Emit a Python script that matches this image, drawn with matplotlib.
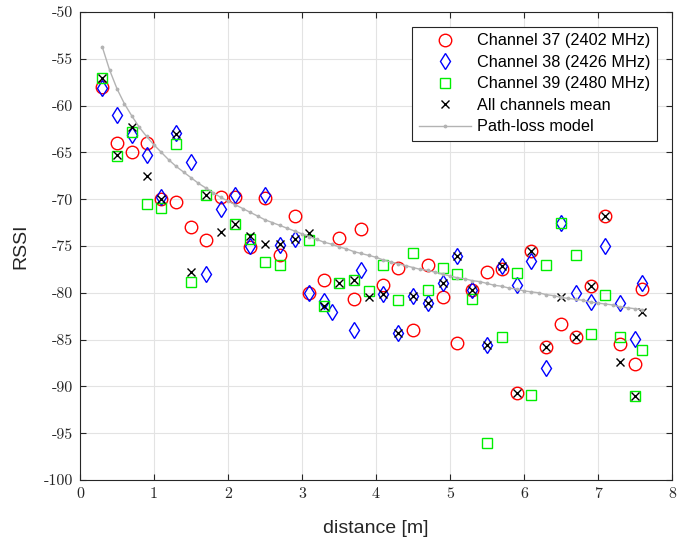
import numpy as np
import matplotlib
matplotlib.use("Agg")
import matplotlib.pyplot as plt

plt.rcParams["axes.unicode_minus"] = False

# measurement positions (m)
dist = [0.3, 0.5, 0.7, 0.9, 1.1, 1.3, 1.5, 1.7, 1.9, 2.1, 2.3, 2.5, 2.7, 2.9,
        3.1, 3.3, 3.4, 3.5, 3.7, 3.8, 3.9, 4.1, 4.3, 4.5, 4.7, 4.9, 5.1, 5.3,
        5.5, 5.7, 5.9, 6.1, 6.3, 6.5, 6.7, 6.9, 7.1, 7.3, 7.5, 7.6]
nan = np.nan
ch37 = [-58.0, -64.0, -65.0, -64.0, -70.0, -70.3, -73.0, -74.4, -69.8, -69.8,
        -75.1, -69.9, -76.0, -71.8, -80.0, -78.6, nan, -74.1, -80.7, -73.2,
        nan, -79.2, -77.4, -84.0, -77.0, -80.4, -85.4, -79.7, -77.8, -77.5,
        -90.7, -75.5, -85.8, -83.3, -84.7, -79.3, -71.8, -85.5, -87.6, -79.6]
ch38 = [-58.1, -61.0, -63.1, -65.3, -69.8, -62.9, -66.0, -78.0, -71.0, -69.6,
        -75.0, -69.6, -74.9, -74.2, -80.0, -80.9, -82.0, nan, -84.0, -77.6,
        nan, -80.1, -84.3, -80.3, -81.1, -79.0, -76.1, -79.7, -85.6, -77.1,
        -79.2, -76.6, -88.0, -72.5, -80.0, -81.0, -75.0, -81.1, -84.9, -78.9]
ch39 = [-57.0, -65.4, -62.8, -70.5, -70.9, -64.1, -78.8, -69.5, nan, -72.6,
        -74.2, -76.7, -77.0, nan, -74.4, -81.4, nan, -79.0, -78.6, nan,
        -79.8, -77.0, -80.8, -75.8, -79.7, -77.4, -78.0, -80.7, -96.1, -84.7,
        -77.9, -90.9, -77.0, -72.5, -76.0, -84.4, -80.2, -84.7, -91.0, -86.1]
ch_mean = [-57.0, -65.3, -62.3, -67.5, -70.0, -63.0, -77.8, -69.5, -73.5, -72.6,
           -73.9, -74.8, -74.8, -74.2, -73.6, -81.4, nan, -79.0, -78.6, nan,
           -80.5, -80.1, -84.3, -80.3, -81.1, -79.0, -76.1, -79.7, -85.6, -77.1,
           -90.7, -75.5, -85.8, -80.4, -84.7, -79.3, -71.8, -87.4, -91.0, -82.0]

# path-loss model, sampled every 0.1 m
model_d = np.round(np.arange(0.3, 7.65, 0.1), 1)
model_rssi = [-53.7, -56.2, -58.2, -59.8, -61.1, -62.3, -63.3, -64.2, -65.0,
              -65.8, -66.5, -67.1, -67.7, -68.3, -68.8, -69.3, -69.8, -70.2,
              -70.6, -71.0, -71.4, -71.8, -72.2, -72.5, -72.8, -73.1, -73.4,
              -73.7, -74.0, -74.3, -74.6, -74.8, -75.1, -75.3, -75.6, -75.8,
              -76.0, -76.2, -76.5, -76.7, -76.9, -77.1, -77.3, -77.5, -77.6,
              -77.8, -78.0, -78.2, -78.4, -78.5, -78.7, -78.8, -79.0, -79.2,
              -79.3, -79.5, -79.6, -79.8, -79.9, -80.0, -80.2, -80.3, -80.5,
              -80.6, -80.7, -80.8, -81.0, -81.1, -81.2, -81.3, -81.5, -81.6,
              -81.7, -81.8]

fig = plt.figure(figsize=(6.94, 5.37), dpi=100)
ax = fig.add_axes([80 / 694, 1 - 480 / 537, 592 / 694, 468 / 537])

ax.plot(dist, ch37, "o", ls="none", mfc="none", mec="#ff0000", mew=1.0,
        ms=9, label="Channel 37 (2402 MHz)")
ax.plot(dist, ch38, "d", ls="none", mfc="none", mec="#0000ff", mew=1.0,
        ms=8.5, label="Channel 38 (2426 MHz)")
ax.plot(dist, ch39, "s", ls="none", mfc="none", mec="#00ee00", mew=1.0,
        ms=6.5, label="Channel 39 (2480 MHz)")
ax.plot(dist, ch_mean, "x", ls="none", color="black", mew=1.0, ms=6,
        label="All channels mean")
ax.plot(model_d, model_rssi, "-", color="#b3b3b3", lw=1.0, marker=".",
        ms=3.5, label="Path-loss model")

ax.set_xlim(0, 8)
ax.set_ylim(-100, -50)
ax.set_xticks(range(0, 9))
ax.set_yticks(range(-100, -49, 5))
ax.grid(True, color="#e3e3e3", lw=0.8)
ax.set_axisbelow(True)
ax.tick_params(direction="in", top=True, right=True, length=4, width=0.8,
               color="#262626", labelsize=11.5, labelfontfamily="cmr10",
               labelcolor="#262626", pad=5)
for s in ax.spines.values():
    s.set_color("#262626")
    s.set_linewidth(0.8)

ax.set_xlabel("distance [m]", fontsize=14, family="Liberation Sans",
              color="#262626", labelpad=14)
ax.set_ylabel("RSSI", fontsize=14, family="Liberation Sans",
              color="#262626", labelpad=10)

leg = ax.legend(loc="upper right", bbox_to_anchor=(0.9747, 0.968),
                borderaxespad=0,
                prop=dict(family="Liberation Sans", size=11.7),
                frameon=True, fancybox=False, framealpha=1, edgecolor="#262626",
                handlelength=3.25, borderpad=0.4, labelspacing=0.4,
                handletextpad=0.35)
leg.get_frame().set_linewidth(0.8)

fig.savefig("out.png", dpi=100)
